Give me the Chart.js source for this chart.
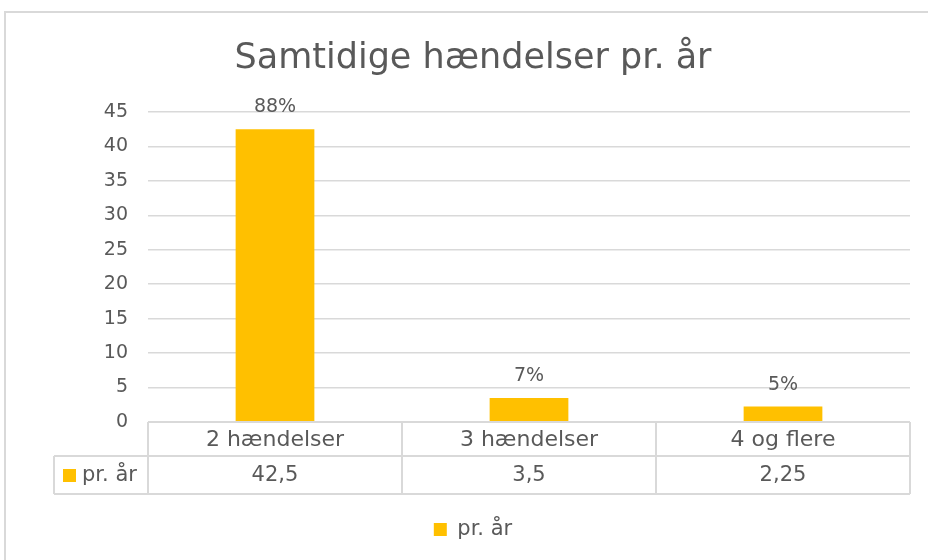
<!DOCTYPE html>
<html>
<head>
<meta charset="utf-8">
<script src="https://cdn.jsdelivr.net/npm/chart.js@4"></script>
<style>
html, body { margin: 0; padding: 0; background: #fff; }
#wrap { width: 928px; height: 560px; }
</style>
</head>
<body>
<div id="wrap"><canvas id="chart" width="928" height="560"></canvas></div>
<script>
const kategorier = ['2 hændelser', '3 hændelser', '4 og flere'];
const prAar = [42.5, 3.5, 2.25];
const tabelVaerdier = ['42,5', '3,5', '2,25'];
const procenter = ['88%', '7%', '5%'];
const serieNavn = 'pr. år';
const yMin = 0, yMax = 45, yStep = 5;

const FONT = "'DejaVu Sans', sans-serif";
const GRAA = '#595959';
const LINJE = '#d9d9d9';
const GUL = '#ffc000';

// ramme rundt om diagrammet (kun top og venstre er synlige)
const rammePlugin = {
    id: 'ramme',
    beforeDraw(chart) {
        const ctx = chart.ctx;
        ctx.save();
        ctx.fillStyle = '#fff';
        ctx.fillRect(0, 0, chart.width, chart.height);
        ctx.strokeStyle = LINJE; ctx.lineWidth = 2;
        ctx.beginPath();
        ctx.moveTo(5, chart.height); ctx.lineTo(5, 12); ctx.lineTo(chart.width, 12);
        ctx.stroke();
        ctx.restore();
    }
};

const procentPlugin = {
    id: 'procenter',
    afterDatasetsDraw(chart) {
        const ctx = chart.ctx;
        const meta = chart.getDatasetMeta(0);
        ctx.save();
        ctx.font = `19px ${FONT}`; ctx.fillStyle = GRAA;
        ctx.textAlign = 'center'; ctx.textBaseline = 'alphabetic';
        meta.data.forEach((bar, i) => ctx.fillText(procenter[i], bar.x, bar.y - 17));
        ctx.restore();
    }
};

// datatabel under x-aksen
const tabelPlugin = {
    id: 'tabel',
    afterDraw(chart) {
        const { ctx, chartArea } = chart;
        const x = chart.scales.x;
        const n = kategorier.length;
        const colW = (x.right - x.left) / n;
        const top = chartArea.bottom, mid = top + 34, bund = top + 72;
        const venstre = 54;
        ctx.save();
        ctx.strokeStyle = LINJE; ctx.lineWidth = 2;
        ctx.beginPath();
        ctx.moveTo(x.left, top); ctx.lineTo(x.right, top);
        ctx.moveTo(venstre, mid); ctx.lineTo(x.right, mid);
        ctx.moveTo(venstre, bund); ctx.lineTo(x.right, bund);
        ctx.moveTo(venstre, mid); ctx.lineTo(venstre, bund);
        for (let i = 0; i <= n; i++) {
            const px = x.left + i * colW;
            ctx.moveTo(px, top); ctx.lineTo(px, bund);
        }
        ctx.stroke();

        ctx.fillStyle = GRAA; ctx.textAlign = 'center'; ctx.textBaseline = 'middle';
        ctx.font = `22px ${FONT}`;
        kategorier.forEach((k, i) => ctx.fillText(k, x.getPixelForValue(i), (top + mid) / 2 + 1));
        ctx.font = `21px ${FONT}`;
        tabelVaerdier.forEach((v, i) => ctx.fillText(v, x.getPixelForValue(i), (mid + bund) / 2 + 1));

        ctx.fillStyle = GUL;
        ctx.fillRect(63, (mid + bund) / 2 - 6, 13, 13);
        ctx.fillStyle = GRAA; ctx.textAlign = 'left';
        ctx.fillText(serieNavn, 82, (mid + bund) / 2 + 1);
        ctx.restore();
    }
};

new Chart(document.getElementById('chart'), {
    type: 'bar',
    data: {
        labels: kategorier,
        datasets: [{
            label: serieNavn,
            data: prAar,
            backgroundColor: GUL,
            borderWidth: 0,
            categoryPercentage: 1,
            barPercentage: 0.31
        }]
    },
    options: {
        responsive: false,
        animation: false,
        layout: { padding: { top: 12, left: 36, right: 18, bottom: 10 } },
        plugins: {
            title: {
                display: true,
                text: 'Samtidige hændelser pr. år',
                color: GRAA,
                font: { family: FONT, size: 35, weight: 'normal' },
                padding: { top: 26, bottom: 32 }
            },
            legend: {
                position: 'bottom',
                labels: {
                    color: GRAA,
                    font: { family: FONT, size: 21 },
                    boxWidth: 13, boxHeight: 13, padding: 8
                }
            },
            tooltip: { enabled: false }
        },
        scales: {
            x: {
                grid: { display: false },
                border: { display: false },
                ticks: { display: false },
                afterFit(s) { s.height = 89; }
            },
            y: {
                min: yMin, max: yMax,
                ticks: { stepSize: yStep, color: GRAA, font: { family: FONT, size: 19 }, padding: 20 },
                grid: { color: LINJE, lineWidth: 1.5, drawTicks: false },
                border: { display: false },
                afterFit(s) { s.width = 112; }
            }
        }
    },
    plugins: [rammePlugin, procentPlugin, tabelPlugin]
});
</script>
</body>
</html>
